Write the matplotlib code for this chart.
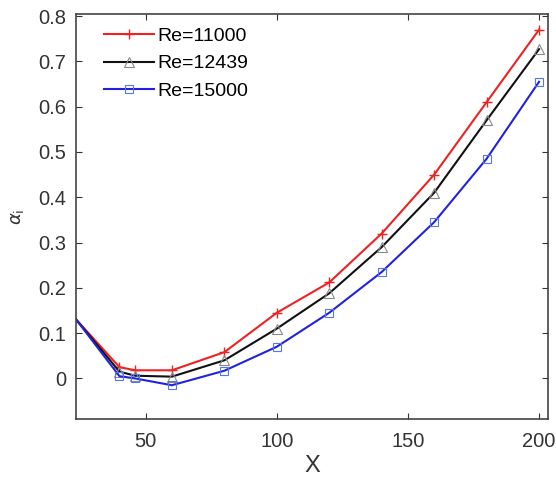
import numpy as np
import matplotlib
matplotlib.use("Agg")
import matplotlib.pyplot as plt

plt.rcParams['font.family'] = ['Liberation Sans', 'DejaVu Sans']

# x positions along the plate
x = [23.5, 40, 46, 60, 80, 100, 120, 140, 160, 180, 200]

# growth rate for each Reynolds number
re_11000 = [0.13, 0.025, 0.018, 0.018, 0.058, 0.145, 0.212, 0.32, 0.45, 0.61, 0.77]
re_12439 = [0.13, 0.015, 0.006, 0.004, 0.040, 0.110, 0.188, 0.29, 0.41, 0.57, 0.727]
re_15000 = [0.13, 0.005, 0.000, -0.015, 0.017, 0.070, 0.145, 0.235, 0.345, 0.485, 0.655]

labels = ['Re=11000', 'Re=12439', 'Re=15000']

fig = plt.figure(figsize=(5.56, 4.78), dpi=100)
ax = fig.add_axes([0.137, 0.123, 0.849, 0.848])

mk = list(range(1, len(x)))  # first point sits on the axis edge, no marker
ax.plot(x, re_11000, color='#ee2222', marker='+', ms=7, mew=1.0, lw=1.5,
        markevery=mk, label=labels[0])
ax.plot(x, re_12439, color='#111111', marker='^', ms=7, mfc='none', mec='#888888',
        mew=0.8, lw=1.5, markevery=mk, label=labels[1])
ax.plot(x, re_15000, color='#2222dd', marker='s', ms=6, mfc='none', mec='#5577ee',
        mew=0.8, lw=1.5, markevery=mk, label=labels[2])

ax.set_xlim(23.5, 203.5)
ax.set_ylim(-0.09, 0.805)
ax.set_xticks([50, 100, 150, 200])
ax.set_yticks([0, 0.1, 0.2, 0.3, 0.4, 0.5, 0.6, 0.7, 0.8])
ax.set_yticklabels(['0', '0.1', '0.2', '0.3', '0.4', '0.5', '0.6', '0.7', '0.8'])

ax.tick_params(direction='in', top=True, right=True, length=4, width=0.8,
               labelsize=14.5, colors='#333333')
ax.tick_params(axis='x', pad=9)
ax.tick_params(axis='y', pad=7)
for s in ax.spines.values():
    s.set_color('#444444')
    s.set_linewidth(1.2)

ax.set_xlabel('X', fontsize=17, color='#333333', labelpad=3)
ax.set_ylabel(r'$\alpha_\mathrm{i}$', fontsize=13, color='#333333', labelpad=9)

ax.legend(loc='upper left', frameon=False, fontsize=14, handlelength=2.6,
          handletextpad=0.15, labelspacing=0.5, borderaxespad=0.3,
          borderpad=0.4, bbox_to_anchor=(0.03, 1.0))

fig.savefig('out.png', dpi=100)
